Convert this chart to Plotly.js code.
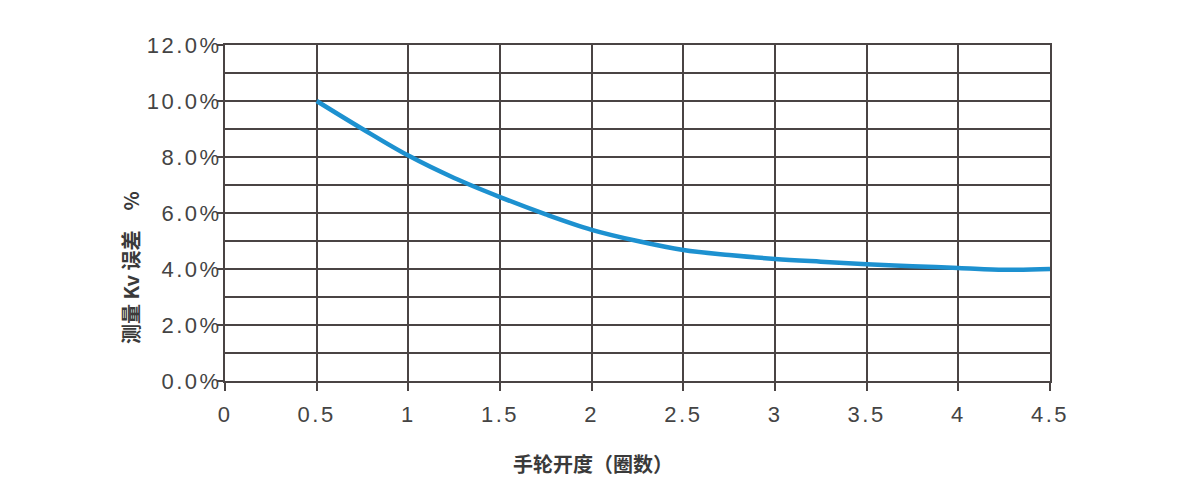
<!DOCTYPE html>
<html><head><meta charset="utf-8">
<script src="https://cdn.plot.ly/plotly-3.0.1.min.js"></script>
<style>html,body{margin:0;padding:0;background:#fff}#chart{width:1180px;height:500px}
.xtick text,.ytick text{letter-spacing:2.5px}</style>
</head><body><div id="chart"></div>
<script>
const turns = [0.5, 0.75, 1, 1.25, 1.5, 1.75, 2, 2.25, 2.5, 2.75, 3, 3.25, 3.5, 3.75, 4, 4.25, 4.5];
const kvError = [10.0, 9.0, 8.05, 7.25, 6.57, 5.95, 5.4, 5.0, 4.68, 4.5, 4.36, 4.26, 4.17, 4.1, 4.04, 3.97, 4.0];
const xTicks = [0, 0.5, 1, 1.5, 2, 2.5, 3, 3.5, 4, 4.5];
const xTickText = ['0', '0.5', '1', '1.5', '2', '2.5', '3', '3.5', '4', '4.5'];
const yTicks = [0, 2, 4, 6, 8, 10, 12];
const yTickText = ['0.0%', '2.0%', '4.0%', '6.0%', '8.0%', '10.0%', '12.0%'];
const xTitle = '手轮开度（圈数）';
const yTitle = '测量 Kv 误差　%';

const trace = {
  x: turns, y: kvError, type: 'scatter', mode: 'lines',
  line: {color: '#1d91d0', width: 4.5, shape: 'spline', smoothing: 1.0},
  hoverinfo: 'skip'
};
const gridC = '#4a4444';
const titleFont = {family: '"Noto Sans CJK SC", sans-serif', size: 20, color: '#3a3a3a', weight: 'bold'};
const layout = {
  width: 1180, height: 500,
  margin: {l: 225, r: 130, t: 45, b: 119},
  paper_bgcolor: '#fff', plot_bgcolor: '#fff',
  showlegend: false,
  font: {family: '"Liberation Sans", Arial, sans-serif', color: '#444'},
  xaxis: {
    range: [0, 4.5], tickvals: xTicks, ticktext: xTickText,
    showgrid: true, gridcolor: gridC, gridwidth: 2,
    zeroline: false, showline: true, linecolor: gridC, linewidth: 2, mirror: true,
    ticks: 'outside', ticklen: 8, tickwidth: 2, tickcolor: gridC,
    ticklabelstandoff: 5,
    tickfont: {size: 22, color: '#444'}
  },
  yaxis: {
    range: [0, 12], tickvals: yTicks, ticktext: yTickText,
    showgrid: true, gridcolor: gridC, gridwidth: 2,
    minor: {dtick: 1, showgrid: true, gridcolor: gridC, gridwidth: 2, ticks: ''},
    zeroline: false, showline: true, linecolor: gridC, linewidth: 2, mirror: true,
    ticks: 'outside', ticklen: 6, tickwidth: 2, tickcolor: gridC,
    ticklabelstandoff: -9,
    tickfont: {size: 22, color: '#444'}
  },
  annotations: [
    {text: xTitle, xref: 'paper', yref: 'paper', x: 0.446, y: 0, xanchor: 'center', yanchor: 'middle', yshift: -82, showarrow: false, font: titleFont},
    {text: yTitle, xref: 'paper', yref: 'paper', x: 0, y: 0.336, xanchor: 'center', yanchor: 'middle', xshift: -95, textangle: -90, showarrow: false, font: titleFont}
  ]
};
Plotly.newPlot('chart', [trace], layout, {displayModeBar: false, staticPlot: true});
</script></body></html>
